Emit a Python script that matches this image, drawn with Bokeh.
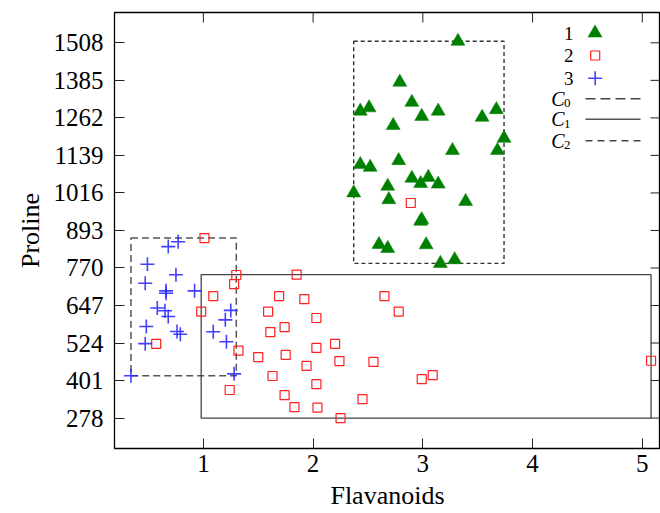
from bokeh.plotting import figure
from bokeh.models import FixedTicker, Range1d
from bokeh.embed import file_html
from bokeh.resources import INLINE
from bokeh.core.properties import value

# ---------------- data ----------------
class1_flavanoids = [3.32, 2.79, 2.90, 2.43, 2.51, 2.99, 3.14, 3.67, 3.54, 2.73,
                     3.74, 3.27, 3.68, 2.78, 2.43, 2.52, 2.90, 3.05, 2.98, 3.14,
                     2.68, 2.37, 2.69, 3.39, 2.98, 2.99, 2.60, 2.68, 3.03, 3.16, 3.29]
class1_proline = [1513, 1379, 1313, 1284, 1295, 1267, 1284, 1289, 1264, 1237,
                  1195, 1155, 1155, 1122, 1109, 1100, 1064, 1067, 1047, 1045,
                  1038, 1016, 994, 988, 923, 928, 847, 834, 846, 785, 797]

class2_flavanoids = [1.01, 1.30, 1.85, 1.28, 1.09, 1.69, 1.92, 2.65, 0.98, 1.59,
                     2.78, 2.03, 1.74, 1.61, 2.20, 0.57, 2.03, 1.32, 1.50, 1.75,
                     2.24, 2.55, 1.94, 1.63, 2.99, 3.09, 2.03, 1.24, 1.74, 2.45,
                     1.83, 2.04, 2.25, 5.08, 2.89]
class2_proline = [868, 747, 748, 717, 678, 678, 668, 678, 627, 627,
                  627, 606, 576, 560, 521, 521, 508, 499, 478, 485,
                  465, 462, 449, 416, 406, 419, 389, 370, 353, 340,
                  314, 312, 278, 466, 983]

class3_flavanoids = [0.77, 0.68, 0.49, 0.75, 0.47, 0.66, 0.66, 0.92, 0.58, 0.65,
                     0.68, 0.48, 0.76, 0.79, 0.47, 0.34, 1.25, 1.20, 1.09, 1.21, 1.28]
class3_proline = [856, 840, 782, 748, 720, 695, 687, 695, 639, 630,
                  611, 578, 562, 553, 522, 417, 631, 600, 561, 528, 423]

cluster_names = ["C0", "C1", "C2"]
cluster_flav_min = [0.34, 0.98, 2.37]
cluster_flav_max = [1.30, 5.08, 3.74]
cluster_pro_min = [417, 278, 785]
cluster_pro_max = [868, 748, 1513]

class_labels = ["1", "2", "3"]
x_ticks = [1, 2, 3, 4, 5]
y_ticks = [278, 401, 524, 647, 770, 893, 1016, 1139, 1262, 1385, 1508]

# ---------------- figure ----------------
SERIF = "Liberation Serif"
W, H = 660, 513
FL, FR, FT, FB = 114, 660, 12, 448      # frame edges (pixels)
X0, X1 = 0.19, 5.166
Y0, Y1 = 178.3, 1607.4

p = figure(width=W, height=H, output_backend="svg", toolbar_location=None,
           x_range=Range1d(X0, X1), y_range=Range1d(Y0, Y1),
           min_border_left=FL, min_border_right=W - FR, min_border_top=FT,
           min_border_bottom=H - FB)
p.background_fill_color = "white"
p.border_fill_color = "white"
p.outline_line_color = "black"
p.outline_line_width = 1.3
p.xgrid.visible = False
p.ygrid.visible = False

for ax, ticks in ((p.xaxis[0], x_ticks), (p.yaxis[0], y_ticks)):
    ax.ticker = FixedTicker(ticks=ticks)
    ax.major_tick_in = 10
    ax.major_tick_out = 0
    ax.minor_tick_line_color = None
    ax.major_tick_line_color = "#222222"
    ax.axis_line_color = "black"
    ax.major_label_text_font = SERIF
    ax.major_label_text_font_size = "25px"
    ax.major_label_text_color = "black"
    ax.axis_label_text_font = SERIF
    ax.axis_label_text_font_size = "26px"
    ax.axis_label_text_font_style = "normal"
    ax.axis_label_text_color = "black"

p.xaxis[0].axis_label = "Flavanoids"
p.yaxis[0].axis_label = "Proline"
p.xaxis[0].major_label_standoff = 6
p.xaxis[0].axis_label_standoff = 6
p.yaxis[0].major_label_standoff = 11
p.yaxis[0].axis_label_standoff = 6


def xd(px):
    return X0 + (px - FL) * (X1 - X0) / (FR - FL)


def yd(py):
    return Y1 - (py - FT) * (Y1 - Y0) / (FB - FT)


# mirrored tick marks on the top and right edges (inward, 10 px)
dx10 = 10 * (X1 - X0) / (FR - FL)
dy10 = 10 * (Y1 - Y0) / (FB - FT)
p.segment(x0=x_ticks, y0=[Y1] * len(x_ticks), x1=x_ticks, y1=[Y1 - dy10] * len(x_ticks),
          line_color="#222222", line_width=1)
p.segment(x0=[X1] * len(y_ticks), y0=y_ticks, x1=[X1 - dx10] * len(y_ticks), y1=y_ticks,
          line_color="#222222", line_width=1)

# ---------------- cluster boxes ----------------
box_styles = [dict(line_dash="7 4", line_color="#555555", line_width=1.5),
              dict(line_dash="solid", line_color="#444444", line_width=1.3),
              dict(line_dash="4 3", line_color="#333333", line_width=1.4)]
for i in range(len(cluster_names)):
    p.quad(left=[cluster_flav_min[i]], right=[cluster_flav_max[i]],
           bottom=[cluster_pro_min[i]], top=[cluster_pro_max[i]],
           fill_color=None, **box_styles[i])

# ---------------- points ----------------
GREEN = "#008000"
RED = "#ff2020"
BLUE = "#2020ff"
p.scatter(class1_flavanoids, class1_proline, marker="triangle", size=14,
          fill_color=GREEN, line_color=GREEN, line_width=0.5)
p.scatter(class2_flavanoids, class2_proline, marker="square", size=9,
          fill_color=None, line_color=RED, line_width=1.2)
p.scatter(class3_flavanoids, class3_proline, marker="cross", size=14,
          line_color=BLUE, line_width=1.6, line_alpha=0.85)

# ---------------- manual legend (label left, sample right) ----------------
row_y = [33, 55, 77.5]
p.text(x=[xd(573)] * 3, y=[yd(v) for v in row_y], text=class_labels,
       text_font=value(SERIF), text_font_size="19px", text_align="right",
       text_baseline="middle", text_color="black")
p.scatter([xd(594.5)], [yd(32.5)], marker="triangle", size=14,
          fill_color=GREEN, line_color=GREEN, line_width=0.5)
p.scatter([xd(594.7)], [yd(55)], marker="square", size=9,
          fill_color=None, line_color=RED, line_width=1.2)
p.scatter([xd(594.7)], [yd(77.7)], marker="cross", size=14,
          line_color=BLUE, line_width=1.6, line_alpha=0.85)

c_rows = [98.3, 118.8, 140.3]
p.text(x=[xd(564)] * 3, y=[yd(v) for v in c_rows], text=["C", "C", "C"],
       text_font=value(SERIF), text_font_size="20px", text_font_style="italic",
       text_align="right", text_baseline="middle", text_color="black")
p.text(x=[xd(563.5)] * 3, y=[yd(v + 4.5) for v in c_rows],
       text=[n[1:] for n in cluster_names],
       text_font=value(SERIF), text_font_size="13px",
       text_align="left", text_baseline="middle", text_color="black")
legend_line_styles = [dict(line_dash="10 5", line_color="#444444", line_width=1.5),
                      dict(line_dash="solid", line_color="#555555", line_width=1.5),
                      dict(line_dash="7 5", line_color="#444444", line_width=1.5)]
for i, ly in enumerate(c_rows):
    p.line([xd(585), xd(640)], [yd(ly), yd(ly)], **legend_line_styles[i])

open("out.html", "w").write(file_html(p, INLINE))
